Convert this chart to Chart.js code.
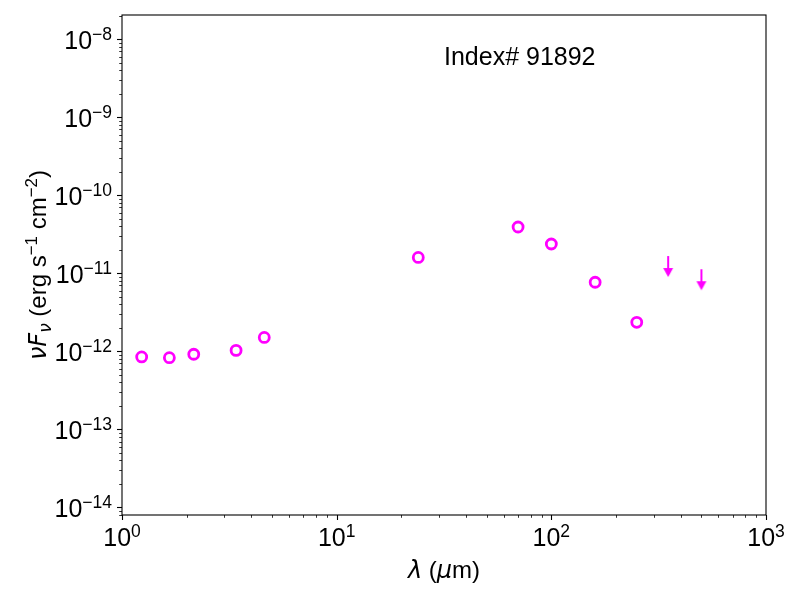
<!DOCTYPE html>
<html>
<head>
<meta charset="utf-8">
<script src="https://cdn.jsdelivr.net/npm/chart.js@4.4.1/dist/chart.umd.min.js"></script>
<style>
  html,body{margin:0;padding:0;background:#fff;}
  #chart{display:block;}
</style>
</head>
<body>
<canvas id="chart" width="800" height="600"></canvas>
<script>
// photometry (micron, erg s-1 cm-2)
const lambda = [1.235, 1.662, 2.159, 3.4, 4.6, 24, 70, 100, 160, 250];
const nuFnu = [8.5e-13, 8.3e-13, 9.2e-13, 1.03e-12, 1.51e-12, 1.6e-11, 3.93e-11, 2.38e-11, 7.7e-12, 2.36e-12];
// upper limits
const limLambda = [350, 500];
const limNuFnu = [1.67e-11, 1.13e-11];

const xTickExp = [0, 1, 2, 3];
const yTickExp = [-14, -13, -12, -11, -10, -9, -8];
const labelText = "Index# 91892";

const magenta = "#ff00ff";
const txtFont = "'Liberation Sans', Arial, sans-serif";
const mathFont = "'DejaVu Sans', sans-serif";

// down arrow used as point style, top of arrow sits on the value
function makeArrow() {
  let c = document.createElement("canvas");
  c.width = 12; c.height = 44;
  let g = c.getContext("2d");
  g.fillStyle = magenta;
  g.fillRect(5, 22, 2, 14);
  g.beginPath();
  g.moveTo(1, 34);
  g.lineTo(11, 34);
  g.lineTo(6, 43);
  g.closePath();
  g.fill();
  return c;
}

function drawRich(ctx, parts, x, y, align) {
  let w = 0;
  parts.forEach(p => { ctx.font = p.f; p.w = ctx.measureText(p.t).width; w += p.w; });
  let cx = x;
  if (align == "center") cx = x - w / 2;
  if (align == "right") cx = x - w;
  ctx.textAlign = "left";
  ctx.textBaseline = "alphabetic";
  parts.forEach(p => { ctx.font = p.f; ctx.fillText(p.t, cx, y + (p.dy || 0)); cx += p.w; });
}

function powLabel(e) {
  let s = (e < 0 ? "\u2212" : "") + Math.abs(e);
  return [
    {t: "10", f: "25px " + txtFont},
    {t: s, f: "17.5px " + txtFont, dy: -9.5}
  ];
}

const axesPlugin = {
  id: "axesPlugin",
  afterDraw(chart) {
    const ctx = chart.ctx;
    const a = chart.chartArea;
    const xs = chart.scales.x, ys = chart.scales.y;
    ctx.save();
    ctx.strokeStyle = "#000";
    ctx.fillStyle = "#000";

    // frame
    ctx.lineWidth = 1.1;
    ctx.strokeRect(a.left, a.top, a.right - a.left, a.bottom - a.top);

    // x ticks
    for (let e = xTickExp[0]; e <= xTickExp[xTickExp.length - 1]; e++) {
      for (let m = 1; m < 10; m++) {
        let v = m * Math.pow(10, e);
        if (v > xs.max * 1.0001) break;
        let px = Math.round(xs.getPixelForValue(v)) + 0.5;
        ctx.lineWidth = m == 1 ? 1.1 : 0.8;
        ctx.beginPath();
        ctx.moveTo(px, a.bottom);
        ctx.lineTo(px, a.bottom + (m == 1 ? 5 : 2.8));
        ctx.stroke();
      }
    }
    xTickExp.forEach(e => {
      let px = xs.getPixelForValue(Math.pow(10, e));
      drawRich(ctx, powLabel(e), px, a.bottom + 31, "center");
    });

    // y ticks
    for (let e = yTickExp[0] - 1; e <= yTickExp[yTickExp.length - 1]; e++) {
      for (let m = 1; m < 10; m++) {
        let v = m * Math.pow(10, e);
        if (v < ys.min * 0.9999 || v > ys.max * 1.0001) continue;
        let py = Math.round(ys.getPixelForValue(v)) + 0.5;
        ctx.lineWidth = m == 1 ? 1.1 : 0.8;
        ctx.beginPath();
        ctx.moveTo(a.left, py);
        ctx.lineTo(a.left - (m == 1 ? 5 : 2.8), py);
        ctx.stroke();
      }
    }
    yTickExp.forEach(e => {
      let py = ys.getPixelForValue(Math.pow(10, e));
      drawRich(ctx, powLabel(e), a.left - 10, py + 10, "right");
    });

    // axis titles
    drawRich(ctx, [
      {t: "\u03bb", f: "italic 24px " + mathFont},
      {t: " (", f: "24px " + txtFont},
      {t: "\u03bc", f: "italic 24px " + mathFont},
      {t: "m)", f: "24px " + txtFont}
    ], (a.left + a.right) / 2, 578, "center");

    ctx.save();
    ctx.translate(46, (a.top + a.bottom) / 2);
    ctx.rotate(-Math.PI / 2);
    drawRich(ctx, [
      {t: "\u03bd", f: "italic 24px " + mathFont},
      {t: "F", f: "italic 24px " + mathFont},
      {t: "\u03bd", f: "italic 17px " + mathFont, dy: 5},
      {t: " (erg s", f: "24px " + txtFont},
      {t: "\u22121", f: "17px " + txtFont, dy: -9.5},
      {t: " cm", f: "24px " + txtFont},
      {t: "\u22122", f: "17px " + txtFont, dy: -9.5},
      {t: ")", f: "24px " + txtFont}
    ], 0, 0, "center");
    ctx.restore();

    // index label
    ctx.font = "25px " + txtFont;
    ctx.textAlign = "left";
    ctx.textBaseline = "alphabetic";
    ctx.fillText(labelText, (a.left + a.right) / 2, a.bottom - 0.9 * (a.bottom - a.top));

    ctx.restore();
  }
};

const ptData = lambda.map((l, i) => ({x: l, y: nuFnu[i]}));
const limData = limLambda.map((l, i) => ({x: l, y: limNuFnu[i]}));

const chart = new Chart(document.getElementById("chart").getContext("2d"), {
  type: "scatter",
  data: {
    datasets: [{
      data: ptData,
      pointStyle: "circle",
      pointRadius: 5,
      borderWidth: 2.8,
      borderColor: magenta,
      backgroundColor: "rgba(0,0,0,0)"
    }, {
      data: limData,
      pointStyle: makeArrow(),
      pointRadius: 6,
      borderColor: magenta,
      backgroundColor: magenta
    }]
  },
  options: {
    responsive: false,
    animation: false,
    devicePixelRatio: 1,
    layout: {padding: {left: 122, right: 34, top: 15, bottom: 85}},
    plugins: {legend: {display: false}, tooltip: {enabled: false}},
    scales: {
      x: {type: "logarithmic", min: 1, max: 1000, display: false},
      y: {type: "logarithmic", min: 8e-15, max: 2.05e-8, display: false}
    }
  },
  plugins: [axesPlugin]
});
</script>
</body>
</html>
